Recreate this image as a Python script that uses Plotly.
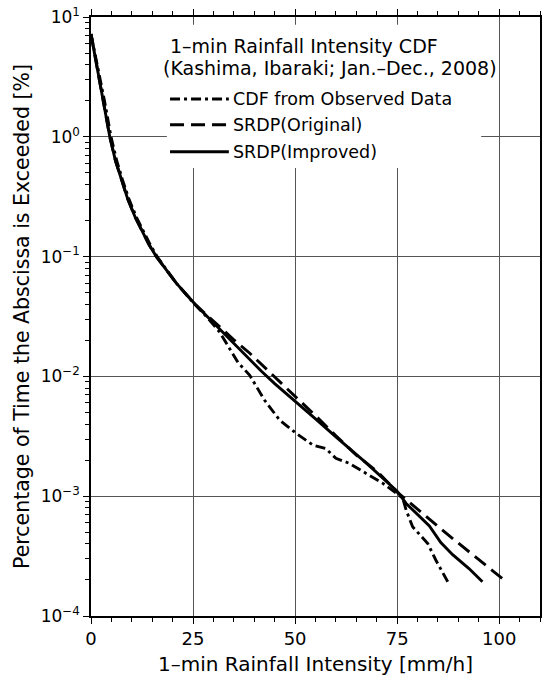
import plotly.graph_objects as go

# ---------------- data ----------------
obs_x = [0, 1.6, 3.3, 4.9, 6.3, 7.8, 9.3, 11.1, 12.8, 14.5, 16.2, 20.9, 25.4, 28.5, 31.5,
         34.1, 36.0, 38.9, 42.5, 46.2, 50.3, 54.4, 57.5, 60.0, 63.3, 67.4, 71.5, 75.0,
         76.4, 77.2, 78.8, 82.5, 84.5, 87.4]
obs_y = [7.2, 4.0, 2.0, 1.0, 0.631, 0.427, 0.302, 0.214, 0.162, 0.126, 0.1, 0.06, 0.04,
         0.031, 0.0235, 0.0168, 0.0131, 0.0102, 0.00635, 0.00432, 0.00334, 0.00267, 0.0025,
         0.00207, 0.00188, 0.00155, 0.00128, 0.00105, 0.00096, 0.000766, 0.000555,
         0.000403, 0.000292, 0.000193]

orig_x = [0, 1.4, 3.0, 4.6, 6.0, 7.5, 9.0, 10.8, 12.5, 14.2, 16.0, 20.9, 25.5, 29.9, 34.8,
          38.9, 42.9, 47.8, 50.0, 55.0, 60.0, 65.0, 70.4, 75.0, 78.0, 86.1, 93.5, 101.8]
orig_y = [7.2, 4.0, 2.0, 1.0, 0.631, 0.427, 0.302, 0.214, 0.162, 0.126, 0.1, 0.06, 0.04,
          0.029, 0.0205, 0.0156, 0.0116, 0.0081, 0.0068, 0.0047, 0.0032, 0.0022, 0.00158,
          0.00108, 0.00089, 0.00052, 0.000325, 0.000193]

imp_x = [0, 1.4, 3.0, 4.6, 6.0, 7.5, 9.0, 10.8, 12.5, 14.2, 16.0, 20.9, 25.5, 30.0, 34.8,
         38.0, 41.7, 45.0, 50.0, 55.0, 60.0, 67.4, 75.0, 77.2, 82.9, 85.7, 88.6, 92.6, 95.9]
imp_y = [7.2, 4.0, 2.0, 1.0, 0.631, 0.427, 0.302, 0.214, 0.162, 0.126, 0.1, 0.06, 0.04,
         0.0279, 0.019, 0.0148, 0.0111, 0.0087, 0.00624, 0.00442, 0.00313, 0.0019, 0.0011,
         0.00087, 0.000565, 0.00041, 0.000325, 0.000249, 0.000193]

x_tick_vals = [0, 25, 50, 75, 100]
x_tick_text = ["0", "25", "50", "75", "100"]
y_tick_vals = [1e-4, 1e-3, 1e-2, 1e-1, 1, 10]
y_tick_text = ["10<sup>−4</sup>", "10<sup>−3</sup>", "10<sup>−2</sup>",
               "10<sup>−1</sup>", "10<sup>0</sup>", "10<sup>1</sup>"]

title_lines = ["1–min Rainfall Intensity CDF", "(Kashima, Ibaraki; Jan.–Dec., 2008)"]
series_names = ["CDF from Observed Data", "SRDP(Original)", "SRDP(Improved)"]
x_title = "1–min Rainfall Intensity [mm/h]"
y_title = "Percentage of Time the Abscissa is Exceeded [%]"

# ---------------- figure ----------------
FONT = "DejaVu Sans"
dashes = ["10px,4px,3px,4px", "14px,7px", "solid"]
series = [(obs_x, obs_y), (orig_x, orig_y), (imp_x, imp_y)]

fig = go.Figure()
for (xs, ys), name, dash in zip(series, series_names, dashes):
    fig.add_trace(go.Scatter(x=xs, y=ys, mode="lines", name=name, showlegend=False,
                             line=dict(color="black", width=2.9, dash=dash)))

minor_y = [m * 10.0 ** e for e in range(-4, 1) for m in range(2, 10)]

fig.update_xaxes(
    range=[0, 110], tickvals=x_tick_vals, ticktext=x_tick_text, automargin=False,
    ticks="outside", ticklen=6, tickwidth=1, tickcolor="black",
    showline=True, linecolor="black", linewidth=1.5, mirror="ticks",
    showgrid=True, gridcolor="#555", gridwidth=1, zeroline=False,
    minor=dict(dtick=5, tick0=0, ticks="outside", ticklen=4, tickcolor="black", showgrid=False),
    tickfont=dict(family=FONT, size=18, color="black"),
    title=dict(text=x_title, font=dict(family=FONT, size=20, color="black"), standoff=9),
)
fig.update_yaxes(
    type="log", range=[-4, 1], tickvals=y_tick_vals, ticktext=y_tick_text, automargin=False,
    ticks="outside", ticklen=6, tickwidth=1, tickcolor="black",
    showline=True, linecolor="black", linewidth=1.5, mirror="ticks",
    showgrid=True, gridcolor="#555", gridwidth=1, zeroline=False,
    minor=dict(tickvals=minor_y, ticks="outside", ticklen=4, tickcolor="black", showgrid=False),
    tickfont=dict(family=FONT, size=17, color="black"),
    title=dict(text=y_title, font=dict(family=FONT, size=20.5, color="black"), standoff=6),
)

# white box behind the in-plot legend
shapes = [dict(type="rect", xref="paper", yref="paper", x0=0.169, x1=0.869, y0=0.748, y1=0.987,
               fillcolor="white", line=dict(width=0), layer="above")]
legend_y = [0.863, 0.820, 0.775]
annotations = []
for name, dash, ly in zip(series_names, dashes, legend_y):
    shapes.append(dict(type="line", xref="paper", yref="paper", x0=0.176, x1=0.307, y0=ly, y1=ly,
                       line=dict(color="black", width=2.9, dash=dash), layer="above"))
    annotations.append(dict(text=name, xref="paper", yref="paper", x=0.312, y=ly,
                            xanchor="left", yanchor="middle", showarrow=False,
                            font=dict(family=FONT, size=17.5, color="black")))
annotations.append(dict(text=title_lines[0], xref="paper", yref="paper", x=0.171, y=0.952,
                        xanchor="left", yanchor="middle", showarrow=False,
                        font=dict(family=FONT, size=19, color="black")))
annotations.append(dict(text=title_lines[1], xref="paper", yref="paper", x=0.156, y=0.915,
                        xanchor="left", yanchor="middle", showarrow=False,
                        font=dict(family=FONT, size=19, color="black")))

fig.update_layout(
    width=542, height=680,
    margin=dict(l=91, r=2, t=17, b=64, autoexpand=False),
    paper_bgcolor="white", plot_bgcolor="white",
    shapes=shapes, annotations=annotations,
    showlegend=False,
)

fig.write_html("out.html")
